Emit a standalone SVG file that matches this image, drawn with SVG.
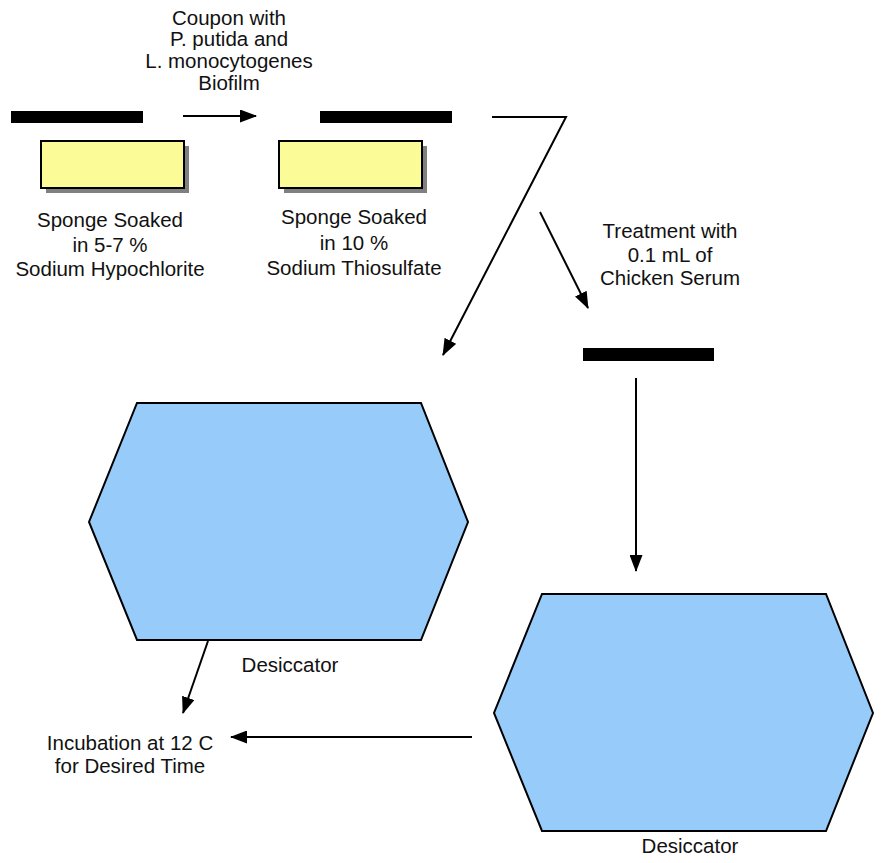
<svg xmlns="http://www.w3.org/2000/svg" width="882" height="863" viewBox="0 0 882 863">
  <style>
    text { font-family: "Liberation Sans", Arial, sans-serif; font-size: 20.5px; fill: #111; text-anchor: middle; }
    .bar { fill: #000; }
    .sponge { fill: #FBFB98; stroke: #000; stroke-width: 2; }
    .shadow { fill: #808080; }
    .hex { fill: #97CBF9; stroke: #000; stroke-width: 2; stroke-linejoin: miter; }
    .conn { stroke: #000; stroke-width: 2; fill: none; }
  </style>
  <defs>
    <marker id="ah" markerUnits="userSpaceOnUse" markerWidth="17" markerHeight="13" refX="16" refY="6.5" orient="auto">
      <path d="M0,0 L17,6.5 L0,13 Z" fill="#000"/>
    </marker>
  </defs>
  <rect width="882" height="863" fill="#fff"/>

  <g id="coupon1"><rect class="bar" x="11" y="111" width="132" height="12"/></g>
  <g id="coupon2"><rect class="bar" x="320" y="111" width="132" height="12"/></g>
  <g id="coupon3"><rect class="bar" x="583" y="348" width="131" height="13"/></g>

  <g id="coupon-label">
    <text x="229" y="25">Coupon with</text>
    <text x="229" y="46">P. putida and</text>
    <text x="229" y="68">L. monocytogenes</text>
    <text x="229" y="90">Biofilm</text>
  </g>

  <g id="sponge1">
    <rect class="shadow" x="46" y="146" width="143" height="47"/>
    <rect class="sponge" x="41" y="141" width="143" height="47"/>
    <text x="110" y="227">Sponge Soaked</text>
    <text x="110" y="252">in 5-7 %</text>
    <text x="110" y="276">Sodium Hypochlorite</text>
  </g>

  <g id="sponge2">
    <rect class="shadow" x="284" y="146" width="143" height="47"/>
    <rect class="sponge" x="279" y="141" width="143" height="47"/>
    <text x="354" y="224">Sponge Soaked</text>
    <text x="354" y="250">in 10 %</text>
    <text x="354" y="275">Sodium Thiosulfate</text>
  </g>

  <g id="treatment-label">
    <text x="670" y="238">Treatment with</text>
    <text x="670" y="262">0.1 mL of</text>
    <text x="670" y="285">Chicken Serum</text>
  </g>

  <g id="desiccator1">
    <polygon class="hex" points="137,403 421,403 468,522 421,640 137,640 89,522"/>
    <text x="290" y="672">Desiccator</text>
  </g>

  <g id="desiccator2">
    <polygon class="hex" points="542,594 826,594 873,713 826,831 542,831 494,713"/>
    <text x="690" y="853">Desiccator</text>
  </g>

  <g id="incubation">
    <text x="130" y="750">Incubation at 12 C</text>
    <text x="130" y="773">for Desired Time</text>
  </g>

  <g id="connectors">
    <line class="conn" x1="183" y1="116" x2="256" y2="116" marker-end="url(#ah)"/>
    <polyline class="conn" points="492,117 566,117 443,355" marker-end="url(#ah)"/>
    <line class="conn" x1="540" y1="212" x2="588" y2="308" marker-end="url(#ah)"/>
    <line class="conn" x1="636" y1="378" x2="636" y2="571" marker-end="url(#ah)"/>
    <line class="conn" x1="208" y1="641" x2="183" y2="713" marker-end="url(#ah)"/>
    <line class="conn" x1="472" y1="737" x2="231" y2="737" marker-end="url(#ah)"/>
  </g>
</svg>
